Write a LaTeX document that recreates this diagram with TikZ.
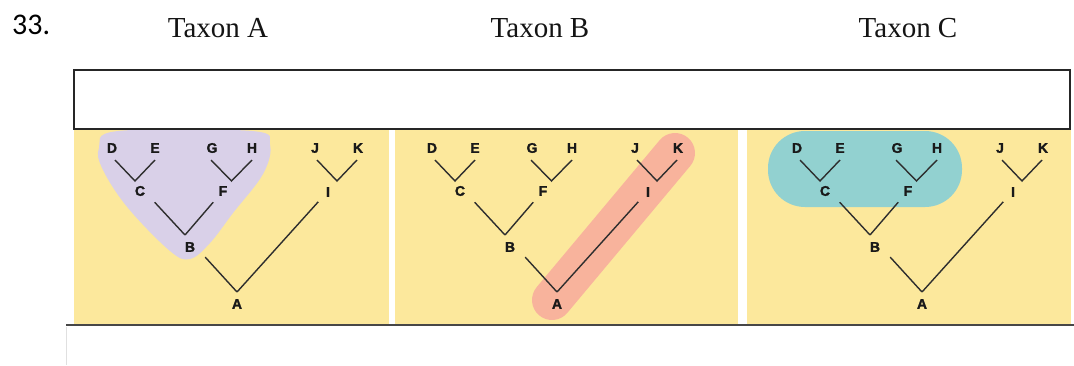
\documentclass[tikz,border=0pt]{standalone}
\usepackage{fontspec}
\setmainfont{Liberation Serif}
\newfontfamily\labfont[FakeBold=1.5]{Liberation Sans Bold}
\newfontfamily\numfont{Carlito}
\definecolor{panelyellow}{HTML}{FCE89C}
\definecolor{lavender}{HTML}{D9D0E8}
\definecolor{salmonc}{HTML}{F8B39C}
\definecolor{tealc}{HTML}{92D1D0}
\newcommand{\cladetree}[2]{%
\begin{scope}[xshift=#2pt]
 \coordinate (#1lD) at (115,160);
 \coordinate (#1lE) at (155,160);
 \coordinate (#1lG) at (211,160);
 \coordinate (#1lH) at (252,160);
 \coordinate (#1lJ) at (317,160);
 \coordinate (#1lK) at (357,160);
 \coordinate (#1vC) at (135,181);
 \coordinate (#1vF) at (231.5,181);
 \coordinate (#1vI) at (337,181);
 \coordinate (#1vB) at (185,235);
 \coordinate (#1vA) at (237,292);
 \node[lab] (#1D) at (112,148) {D};
 \node[lab] (#1E) at (155,148) {E};
 \node[lab] (#1G) at (212,148) {G};
 \node[lab] (#1H) at (252,148) {H};
 \node[lab] (#1J) at (315,148) {J};
 \node[lab] (#1K) at (358,148) {K};
 \node[lab] (#1C) at (140,191) {C};
 \node[lab] (#1F) at (223,191) {F};
 \node[lab] (#1I) at (328,192) {I};
 \node[lab] (#1B) at (190,247) {B};
 \node[lab] (#1A) at (237,304) {A};
 \draw[branch] (#1lD) -- (#1vC) -- (#1lE);
 \draw[branch] (#1lG) -- (#1vF) -- (#1lH);
 \draw[branch] (#1lJ) -- (#1vI) -- (#1lK);
 \draw[branch, shorten <=29pt] (#1vC) -- (#1vB);
 \draw[branch, shorten <=28pt] (#1vF) -- (#1vB);
 \draw[branch, shorten <=30pt] (#1vB) -- (#1vA);
 \draw[branch, shorten <=28pt] (#1vI) -- (#1vA);
\end{scope}}
\begin{document}
\begin{tikzpicture}[x=1pt,y=-1pt,
  lab/.style={font=\labfont\fontsize{14}{14}\selectfont, inner sep=0pt, text=black!90},
  branch/.style={draw=black!82, line width=1.4pt},
  title/.style={font=\fontsize{29}{30}\selectfont, anchor=base, inner sep=0pt, text=black!92},
  panel/.style={fill=panelyellow}]
\useasboundingbox (0,0) rectangle (1074,365);
\fill[white] (0,0) rectangle (1074,365);
% panels
\fill[panel] (74,129) rectangle (389,324);
\fill[panel] (395,129) rectangle (738,324);
\fill[panel] (747,129) rectangle (1071,324);
% highlights
\fill[lavender] plot[smooth cycle, tension=0.6] coordinates {(118,131) (252,131) (270,145) (263,174) (233,213) (210,243) (190,259) (170,251) (128,208) (103,170) (99,148)};
\draw[salmonc, line width=40pt, line cap=round] (552,300) -- (675,153);
\fill[tealc, rounded corners=37pt] (768,131) rectangle (962,207);
% trees
\cladetree{a}{0}
\cladetree{b}{320}
\cladetree{c}{685}
% titles
\node[font=\numfont\fontsize{30}{30}\selectfont, anchor=base west, inner sep=0pt] (num) at (12,34) {33.};
\node[title] (tA) at (218,37) {Taxon A};
\node[title] (tB) at (540,37) {Taxon B};
\node[title] (tC) at (908,37) {Taxon C};
% top box
\draw[line width=1.6pt, draw=black!85, fill=white] (74,70) rectangle (1070,129);
% bottom line
\draw[line width=2.6pt, black!72] (66,325) -- (1074,325);
\draw[line width=0.8pt, black!12] (66,327) -- (66,365);
\end{tikzpicture}
\end{document}
